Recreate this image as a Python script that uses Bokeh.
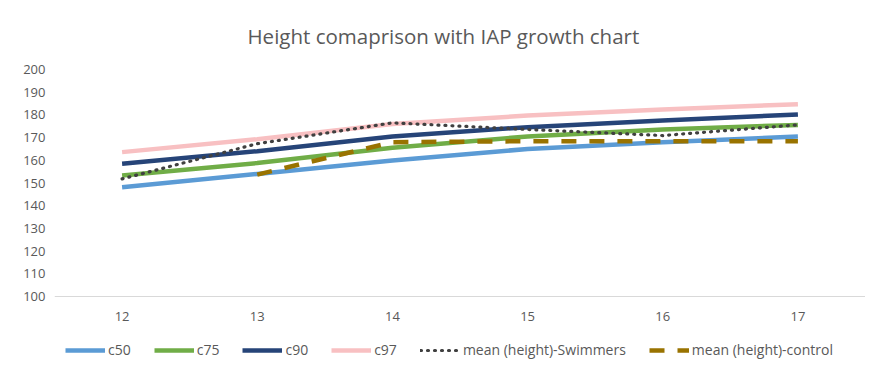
from bokeh.plotting import figure
from bokeh.models import Range1d, Legend, LegendItem, FixedTicker, Span
from bokeh.core.properties import value
from bokeh.embed import file_html
from bokeh.resources import INLINE

ages = [12, 13, 14, 15, 16, 17]
age_labels = ["12", "13", "14", "15", "16", "17"]
c50 = [148.1, 154.0, 159.9, 165.0, 168.0, 170.5]
c75 = [153.3, 158.8, 165.5, 170.5, 173.6, 175.6]
c90 = [158.5, 164.0, 170.5, 174.6, 177.5, 180.2]
c97 = [163.6, 169.3, 176.0, 179.7, 182.4, 184.7]
swimmers = [151.8, 167.3, 176.5, 173.6, 170.9, 175.6]
control_ages = [13, 14, 15, 16, 17]
control = [153.7, 168.0, 168.4, 168.4, 168.4]
y_ticks = [100, 110, 120, 130, 140, 150, 160, 170, 180, 190, 200]

FONT = "Open Sans"
GREY = "#595959"

# plot area: 100..200 spans 227 px; extra 69 px below hosts labels + legend
FRAME_H = 296
AXIS_H = 227
y_lo = y_ticks[0] - (FRAME_H - AXIS_H) * (y_ticks[-1] - y_ticks[0]) / AXIS_H

p = figure(frame_width=811, frame_height=FRAME_H, output_backend="svg",
           toolbar_location=None, x_axis_location=None,
           x_range=Range1d(11.5, 17.5), y_range=Range1d(y_lo, y_ticks[-1]),
           min_border_left=54, min_border_right=0, min_border_top=69,
           min_border_bottom=0)
p.outline_line_color = None
p.background_fill_color = "white"
p.border_fill_color = "white"

p.title.text = "Height comaprison with IAP growth chart"
p.title.text_font = FONT
p.title.text_font_size = "20.5px"
p.title.text_font_style = "normal"
p.title.text_color = GREY
p.title.align = "left"
p.title.offset = 193
p.title.standoff = 39

p.xgrid.grid_line_color = None
p.ygrid.grid_line_color = None

p.yaxis.ticker = FixedTicker(ticks=y_ticks)
p.yaxis.axis_line_color = None
p.yaxis.major_tick_line_color = None
p.yaxis.minor_tick_line_color = None
p.yaxis.major_tick_out = 0
p.yaxis.major_label_text_font = FONT
p.yaxis.major_label_text_font_size = "13px"
p.yaxis.major_label_text_color = GREY
p.yaxis.major_label_standoff = 9

# category axis line at the base value and its labels
p.add_layout(Span(location=y_ticks[0], dimension="width",
                  line_color="#d9d9d9", line_width=1))
p.text(x=ages, y=[y_ticks[0]] * len(ages), text=age_labels,
       text_font=value(FONT), text_font_size="13px", text_color=GREY,
       text_align="center", text_baseline="middle", y_offset=20)

r50 = p.line(ages, c50, line_color="#5B9BD5", line_width=4.5)
r75 = p.line(ages, c75, line_color="#70AD47", line_width=4.5)
r90 = p.line(ages, c90, line_color="#264478", line_width=4.5)
r97 = p.line(ages, c97, line_color="#F8C0C2", line_width=4.5)
rsw = p.line(ages, swimmers, line_color="#404040", line_width=3.2,
             line_dash="1 6", line_cap="round")
rct = p.line(control_ages, control, line_color="#997300", line_width=4.5,
             line_dash="15 13")

legend = Legend(items=[
    LegendItem(label="c50", renderers=[r50]),
    LegendItem(label="c75", renderers=[r75]),
    LegendItem(label="c90", renderers=[r90]),
    LegendItem(label="c97", renderers=[r97]),
    LegendItem(label="mean (height)-Swimmers", renderers=[rsw]),
    LegendItem(label="mean (height)-control", renderers=[rct]),
], orientation="horizontal", location=(11, 6))
legend.label_text_font = FONT
legend.label_text_font_size = "14px"
legend.label_text_color = GREY
legend.label_height = 16
legend.glyph_width = 40
legend.glyph_height = 14
legend.label_standoff = 3
legend.spacing = 23
legend.padding = 2
legend.margin = 0
legend.border_line_color = None
legend.background_fill_alpha = 0
p.add_layout(legend, "center")

open("out.html", "w").write(file_html(p, INLINE))
